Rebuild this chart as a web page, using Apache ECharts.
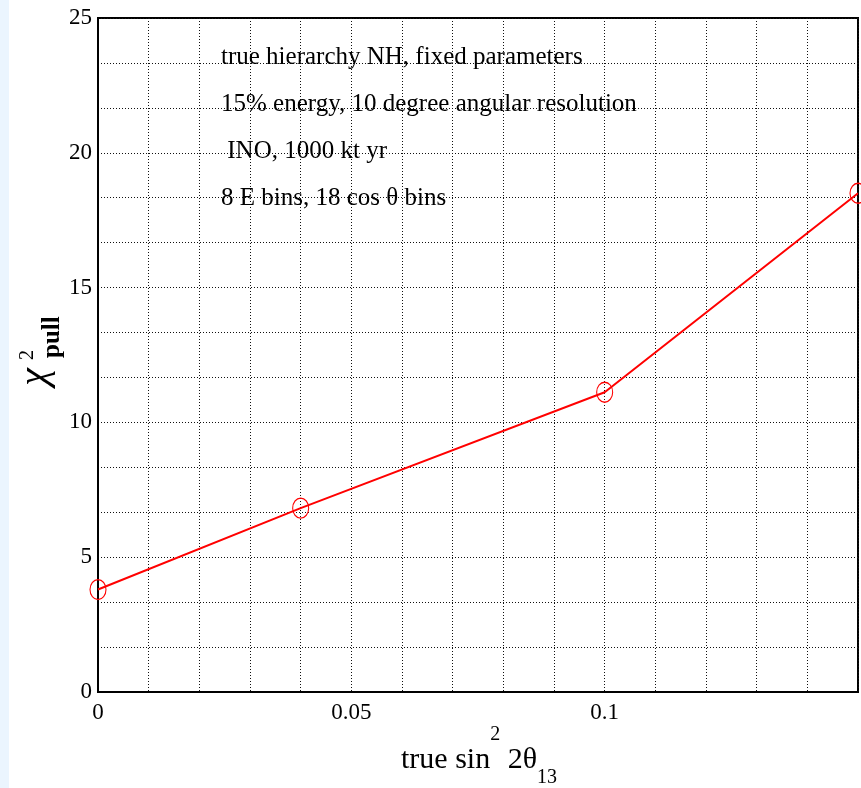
<!DOCTYPE html>
<html>
<head>
<meta charset="utf-8">
<script src="https://cdn.jsdelivr.net/npm/echarts@6/dist/echarts.min.js"></script>
<style>
html,body{margin:0;padding:0;background:#fff;overflow:hidden;}
#chart{width:861px;height:788px;}
</style>
</head>
<body>
<div id="chart"></div>
<script>
// ---- data ----
const sin2Theta13 = [0, 0.04, 0.1, 0.15];
const chi2Pull = [3.8, 6.82, 11.12, 18.5];
const xTickLabels = ['0', '0.05', '0.1'];
const yTickLabels = ['0', '5', '10', '15', '20', '25'];
const annotationLines = [
  'true hierarchy NH, fixed parameters',
  '15% energy, 10 degree angular resolution',
  ' INO, 1000 kt yr',
  '8 E bins, 18 cos \u03b8 bins'
];

const SERIF = '"Liberation Serif", "Times New Roman", serif';
const chart = echarts.init(document.getElementById('chart'), null, {renderer: 'canvas'});

const dotted = {color: '#111', width: 1, type: [1, 2]};

const annotationGraphics = annotationLines.map((t, i) => ({
  type: 'text',
  x: 221,
  y: 57 + i * 47,
  z: 10,
  style: {
    text: t,
    fill: '#000',
    font: '25px ' + SERIF,
    textAlign: 'left',
    textVerticalAlign: 'middle'
  }
}));

const option = {
  animation: false,
  backgroundColor: '#fff',
  grid: {
    left: 98, right: 0, top: 18, bottom: 96,
    show: true, borderColor: '#000', borderWidth: 2, backgroundColor: 'transparent'
  },
  xAxis: {
    type: 'value',
    min: 0, max: 0.15, interval: 0.05,
    axisLine: {show: true, onZero: false, lineStyle: {color: '#000', width: 2}},
    axisTick: {show: false},
    axisLabel: {
      color: '#000', fontFamily: SERIF, fontSize: 23, margin: 9,
      formatter: function (v) {
        const idx = Math.round(v / 0.05);
        return xTickLabels[idx] !== undefined ? xTickLabels[idx] : '';
      }
    },
    splitLine: {show: true, lineStyle: dotted},
    minorTick: {show: false, splitNumber: 5},
    minorSplitLine: {show: true, lineStyle: dotted}
  },
  yAxis: {
    type: 'value',
    min: 0, max: 25, interval: 5,
    axisLine: {show: true, onZero: false, lineStyle: {color: '#000', width: 2}},
    axisTick: {show: false},
    axisLabel: {
      color: '#000', fontFamily: SERIF, fontSize: 23, margin: 6,
      formatter: function (v) {
        const idx = Math.round(v / 5);
        return yTickLabels[idx] !== undefined ? yTickLabels[idx] : '';
      }
    },
    splitLine: {show: true, lineStyle: dotted},
    minorTick: {show: false, splitNumber: 3},
    minorSplitLine: {show: true, lineStyle: dotted}
  },
  series: [{
    type: 'line',
    data: sin2Theta13.map((x, i) => [x, chi2Pull[i]]),
    clip: false,
    symbol: 'path://M0,10 A10,10 0 1,1 20,10 A10,10 0 1,1 0,10 Z',
    symbolSize: [16, 20],
    showAllSymbol: true,
    lineStyle: {color: '#ff0000', width: 2},
    itemStyle: {color: 'rgba(0,0,0,0)', borderColor: '#ff0000', borderWidth: 1.2},
    z: 5
  }],
  graphic: [
    {
      type: 'rect', z: -10, silent: true,
      shape: {x: 0, y: 0, width: 9, height: 788},
      style: {fill: '#ebf5fe'}
    },
    ...annotationGraphics,
    {
      type: 'text', x: 479, y: 760, z: 10,
      style: {
        text: '{m|true sin}{s|2}{m| 2\u03b8}{b|13}',
        textAlign: 'center', textVerticalAlign: 'middle',
        rich: {
          m: {font: '30px ' + SERIF, fill: '#000', lineHeight: 70},
          s: {font: '20px ' + SERIF, fill: '#000', lineHeight: 18, verticalAlign: 'top'},
          b: {font: '20px ' + SERIF, fill: '#000', verticalAlign: 'bottom', padding: [0, 0, 7, 0]}
        }
      }
    },
    {
      type: 'text', x: 35, y: 377, rotation: Math.PI / 2, z: 10,
      style: {text: '\u03c7', font: 'italic 40px ' + SERIF, fill: '#000', textAlign: 'center', textVerticalAlign: 'middle'}
    },
    {
      type: 'text', x: 28, y: 360, rotation: Math.PI / 2, z: 10,
      style: {text: '2', font: '20px ' + SERIF, fill: '#000', textAlign: 'left', textVerticalAlign: 'middle'}
    },
    {
      type: 'text', x: 53, y: 358, rotation: Math.PI / 2, z: 10,
      style: {text: 'pull', font: 'bold 25px ' + SERIF, fill: '#000', textAlign: 'left', textVerticalAlign: 'middle'}
    }
  ]
};
chart.setOption(option);
</script>
</body>
</html>
